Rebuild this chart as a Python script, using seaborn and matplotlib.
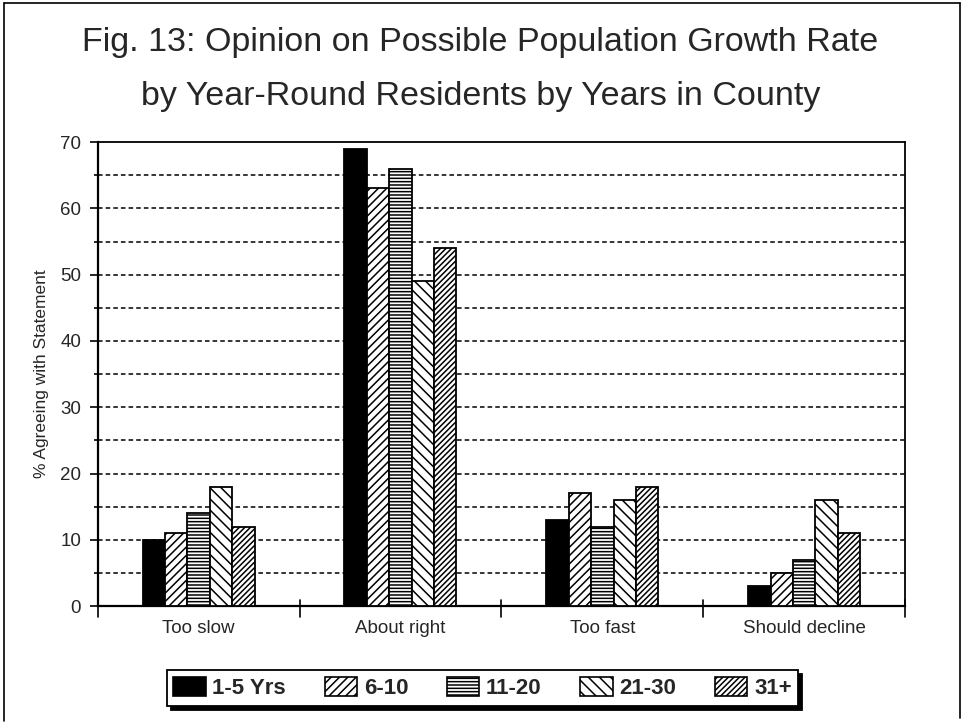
import matplotlib
matplotlib.use("Agg")
import matplotlib.pyplot as plt
from matplotlib.lines import Line2D
from matplotlib.patches import Patch
import seaborn as sns
import pandas as pd
import numpy as np

# Survey results: share of respondents agreeing, by tenure in the county
categories = ["Too slow", "About right", "Too fast", "Should decline"]
groups = ["1-5 Yrs", "6-10", "11-20", "21-30", "31+"]
yrs_1_5 = [10, 69, 13, 3]
yrs_6_10 = [11, 63, 17, 5]
yrs_11_20 = [14, 66, 12, 7]
yrs_21_30 = [18, 49, 16, 16]
yrs_31_plus = [12, 54, 18, 11]
y_ticks = [0, 10, 20, 30, 40, 50, 60, 70]

series = [yrs_1_5, yrs_6_10, yrs_11_20, yrs_21_30, yrs_31_plus]
df = pd.DataFrame({
    "Opinion": [c for _ in groups for c in categories],
    "Years": [g for g in groups for _ in categories],
    "Pct": [v for s in series for v in s],
})

sns.set_theme(style="white")
plt.rcParams["font.family"] = ["Liberation Sans", "DejaVu Sans"]
plt.rcParams["hatch.linewidth"] = 1.1

fig = plt.figure(figsize=(9.67, 7.25), dpi=100)
ax = fig.add_axes([0.101, 0.164, 0.835, 0.640])

facecolors = ["black", "white", "white", "white", "white"]
hatches = [None, "////", "-----", "\\\\\\", "//////"]

sns.barplot(data=df, x="Opinion", y="Pct", hue="Years", order=categories,
            hue_order=groups, palette=facecolors, width=0.555, gap=0,
            edgecolor="black", linewidth=1.3, saturation=1, ax=ax,
            legend=False, errorbar=None)

for container, fc, h in zip(ax.containers, facecolors, hatches):
    for bar in container:
        bar.set_facecolor(fc)
        bar.set_edgecolor("black")
        if h:
            bar.set_hatch(h)
        bar.set_zorder(3)

ax.set_xlim(-0.5, len(categories) - 0.5)
ax.set_ylim(0, 70)
ax.set_yticks(y_ticks)
ax.set_yticks(np.arange(5, 70, 10), minor=True)
ax.set_xticks(np.arange(len(categories)))
ax.set_xticklabels(categories, fontsize=13.5)
ax.tick_params(axis="x", length=0, pad=10)
ax.tick_params(axis="y", which="major", length=6, width=1.2, direction="out",
               left=True, labelsize=13.5, pad=6, color="black")
ax.tick_params(axis="y", which="minor", length=3, width=1.2, direction="out",
               left=True, color="black")
# category boundary ticks crossing the x axis
for xb in np.arange(-0.5, len(categories), 1.0):
    ax.plot([xb, xb], [-1.6, 0.9], color="black", lw=1.2, clip_on=False, zorder=5)

for yv in np.arange(5, 70, 5):
    ax.axhline(yv, color="black", lw=1.1, ls=(0, (3, 2)), zorder=1)

for side in ax.spines.values():
    side.set_color("black")
    side.set_linewidth(1.3)
ax.spines["left"].set_linewidth(1.6)
ax.spines["bottom"].set_linewidth(1.6)

ax.set_xlabel("")
ax.set_ylabel("% Agreeing with Statement", fontsize=12.5, labelpad=8)

fig.text(0.497, 0.941, "Fig. 13: Opinion on Possible Population Growth Rate",
         ha="center", va="center", fontsize=24.5)
fig.text(0.497, 0.867, "by Year-Round Residents by Years in County",
         ha="center", va="center", fontsize=24.5)

handles = [Patch(facecolor=fc, edgecolor="black", hatch=h, linewidth=1.2)
           for fc, h in zip(facecolors, hatches)]
leg = fig.legend(handles, groups, loc="center", bbox_to_anchor=(0.499, 0.051),
                 ncol=5, fontsize=16, frameon=True, fancybox=False,
                 edgecolor="black", handlelength=1.45, handleheight=0.95,
                 handletextpad=0.3, columnspacing=1.75, borderpad=0.3,
                 shadow={"color": "black", "alpha": 1, "ox": 3, "oy": -3})
leg.get_frame().set_linewidth(1.3)
for t in leg.get_texts():
    t.set_fontweight("bold")

# outer frame of the figure
for xs, ys in [([0.004, 0.004], [0.005, 0.996]), ([0.004, 0.993], [0.996, 0.996]),
               ([0.993, 0.993], [0.01, 0.996])]:
    fig.add_artist(Line2D(xs, ys, color="black", lw=1.2, transform=fig.transFigure))

fig.savefig("out.png", dpi=100, facecolor="white")
